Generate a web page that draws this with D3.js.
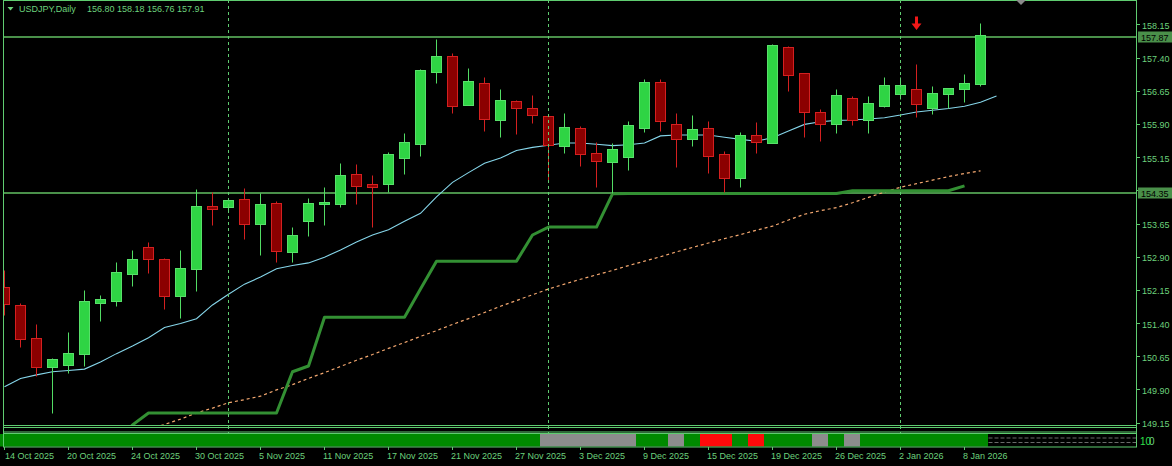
<!DOCTYPE html>
<html>
<head>
<meta charset="utf-8">
<script src="https://d3js.org/d3.v7.min.js"></script>
<style>
  body { margin: 0; background: #000; }
  svg { display: block; }
  text { font-family: "Liberation Sans", Arial, sans-serif; font-size: 9px; fill: #6cd27c; }
</style>
</head>
<body>
<div id="chart"></div>
<script>
// USDJPY daily bars, 14 Oct 2025 .. 9 Jan 2026
var opens  = [152.22,151.81,151.06,150.40,150.45,150.70,151.86,151.91,152.52,153.11,
              152.85,152.02,152.62,154.04,154.03,154.20,153.63,154.11,153.01,153.71,
              154.10,154.10,154.77,154.54,154.55,155.14,155.45,157.08,157.43,156.33,
              156.82,155.99,156.42,156.25,156.07,155.39,155.80,155.24,155.05,155.16,
              155.81,156.85,155.89,155.55,155.80,155.21,154.67,155.64,155.48,157.64,
              157.04,156.18,155.89,156.48,156.00,156.31,156.58,156.70,156.27,156.57,
              156.70,156.80];
var highs  = [152.60,151.86,151.38,150.61,151.19,152.15,152.03,152.78,153.05,153.24,
              152.86,153.05,154.42,154.37,154.20,154.45,154.33,154.16,153.57,154.22,
              154.47,155.02,154.99,154.75,155.26,155.69,157.14,157.83,157.51,157.16,
              156.97,156.70,156.44,156.55,156.10,156.14,155.86,155.50,155.46,155.97,
              156.91,156.91,156.14,156.10,155.97,155.29,155.71,155.94,157.71,157.66,
              157.05,156.23,156.69,156.53,156.53,156.96,156.96,157.25,156.76,156.72,
              157.02,158.18];
var lows   = [151.58,150.87,150.21,149.36,150.27,150.44,151.45,151.79,152.24,152.54,
              151.72,151.52,152.13,153.62,153.91,153.29,152.93,152.79,152.79,153.37,
              153.62,154.02,154.09,153.58,154.37,154.77,155.18,156.83,156.15,156.33,
              155.75,155.61,155.67,155.93,154.63,155.24,154.95,154.47,154.34,154.87,
              155.71,155.75,154.92,155.41,154.80,154.37,154.48,155.24,155.46,156.64,
              155.61,155.51,155.70,155.88,155.70,156.29,156.46,156.06,156.12,156.25,
              156.40,156.76];
var closes = [151.83,151.03,150.40,150.60,150.72,151.89,151.94,152.55,152.84,152.85,
              152.02,152.64,154.04,153.97,154.18,153.63,154.09,153.04,153.39,154.11,
              154.14,154.75,154.50,154.48,155.22,155.49,157.11,157.43,156.31,156.87,
              156.02,156.44,156.27,156.11,155.42,155.82,155.21,155.06,155.33,155.87,
              156.85,155.97,155.55,155.78,155.18,154.67,155.64,155.50,157.68,157.01,
              156.18,155.89,156.55,156.00,156.37,156.79,156.79,156.34,156.59,156.71,
              156.82,157.91];

// fast moving average (shifted one bar forward)
var maFast = [149.96,150.15,150.23,150.30,150.33,150.36,150.52,150.71,150.88,151.07,
              151.30,151.39,151.50,151.81,152.05,152.28,152.44,152.63,152.70,152.76,
              152.89,153.05,153.23,153.39,153.51,153.70,153.88,154.25,154.58,154.80,
              155.01,155.13,155.30,155.37,155.42,155.47,155.47,155.44,155.41,155.43,
              155.47,155.63,155.65,155.65,155.65,155.60,155.55,155.51,155.59,155.74,
              155.89,155.95,155.98,155.99,156.01,156.04,156.10,156.17,156.21,156.25,
              156.30,156.39,156.53];

// slow moving average (dotted)
var maSlow = [null,null,null,null,null,null,null,null,148.86,148.99,
              149.11,149.23,149.37,149.48,149.60,149.67,149.75,149.89,150.01,150.15,
              150.28,150.42,150.56,150.69,150.83,150.96,151.10,151.23,151.37,151.50,
              151.64,151.78,151.91,152.04,152.17,152.28,152.39,152.49,152.59,152.70,
              152.80,152.90,153.01,153.11,153.21,153.31,153.40,153.50,153.59,153.73,
              153.86,153.94,154.01,154.12,154.24,154.36,154.47,154.55,154.63,154.71,
              154.78,154.84];

// stepped trailing line
var stepLine = [null,null,null,null,null,null,null,148.60,149.10,149.37,
                149.37,149.37,149.37,149.37,149.37,149.37,149.37,149.37,150.30,150.43,
                151.53,151.53,151.53,151.53,151.53,151.53,152.17,152.80,152.80,152.80,
                152.80,152.80,152.80,153.39,153.57,153.57,153.57,153.57,154.32,154.33,
                154.33,154.33,154.33,154.33,154.33,154.33,154.33,154.33,154.33,154.33,
                154.33,154.33,154.33,154.39,154.39,154.39,154.39,154.39,154.39,154.39,
                154.50,null];

// trend state strip in the lower window
var trendState = ["up","up","up","up","up","up","up","up","up","up",
                  "up","up","up","up","up","up","up","up","up","up",
                  "up","up","up","up","up","up","up","up","up","up",
                  "up","up","up","up","flat","flat","flat","flat","flat","flat",
                  "up","up","flat","up","down","down","up","down","up","up",
                  "up","flat","up","flat","up","up","up","up","up","up",
                  "up","up"];

var hLines = [157.87, 154.35];
var priceTicks = [158.15, 157.40, 156.65, 155.90, 155.15, 154.40, 153.65, 152.90, 152.15, 151.40, 150.65, 149.90, 149.15];
var dateTicks = [0, 4, 8, 12, 16, 20, 24, 28, 32, 36, 40, 44, 48, 52, 56, 60];
var dateLabels = ["14 Oct 2025","20 Oct 2025","24 Oct 2025","30 Oct 2025","5 Nov 2025","11 Nov 2025",
                  "17 Nov 2025","21 Nov 2025","27 Nov 2025","3 Dec 2025","9 Dec 2025","15 Dec 2025",
                  "19 Dec 2025","26 Dec 2025","2 Jan 2026","8 Jan 2026"];
var separators = [14, 34, 56];   // first bar of each month
var arrowBar = 57, arrowPrice = 158.33;

var width = 1172, height = 466;
var plotLeft = 4, plotRight = 1136, mainBottom = 426;

var fg = "#5fcc70", lineGreen = "#4a904a";

var svg = d3.select("#chart").append("svg")
    .attr("width", width)
    .attr("height", height)
    .style("background", "#000");

// set the ranges
var x = d3.scaleLinear().domain([0, 61]).range([4.5, 980.5]);
var y = d3.scaleLinear().domain([149.075, 158.70]).range([mainBottom, 0]);

function py(v) { return Math.round(y(v)) + 0.5; }

svg.append("defs").append("clipPath").attr("id", "clipMain")
    .append("rect").attr("x", plotLeft).attr("y", 0)
    .attr("width", plotRight - plotLeft).attr("height", mainBottom);

var main = svg.append("g").attr("clip-path", "url(#clipMain)");

// period separators
svg.selectAll(".sep")
    .data(separators)
    .enter().append("line")
    .attr("class", "sep")
    .attr("x1", d => x(d)).attr("x2", d => x(d))
    .attr("y1", 0).attr("y2", 434)
    .style("stroke", fg)
    .style("stroke-dasharray", "3,3")
    .style("stroke-width", 1);

// horizontal levels
main.selectAll(".hline")
    .data(hLines)
    .enter().append("line")
    .attr("class", "hline")
    .attr("x1", plotLeft).attr("x2", plotRight)
    .attr("y1", d => Math.round(y(d))).attr("y2", d => Math.round(y(d)))
    .style("stroke", lineGreen)
    .style("stroke-width", 2);

// slow MA
main.append("path")
    .datum(maSlow.map((v, i) => [i, v]).filter(d => d[1] != null))
    .attr("d", d3.line().x(d => x(d[0])).y(d => y(d[1])))
    .style("fill", "none")
    .style("stroke", "#f4a870")
    .style("stroke-width", 1.2)
    .style("stroke-dasharray", "3,3");

// stepped line
main.append("path")
    .datum(stepLine.map((v, i) => [i, v]).filter(d => d[1] != null))
    .attr("d", d3.line().x(d => x(d[0])).y(d => y(d[1])))
    .style("fill", "none")
    .style("stroke", "#339033")
    .style("stroke-width", 3)
    .style("stroke-linejoin", "round");

// fast MA
main.append("path")
    .datum(maFast.map((v, i) => [i, v]))
    .attr("d", d3.line().x(d => x(d[0])).y(d => y(d[1])))
    .style("fill", "none")
    .style("stroke", "#86d6ea")
    .style("stroke-width", 1.1);

// candles
var bars = d3.range(opens.length);

main.selectAll(".wick")
    .data(bars)
    .enter().append("line")
    .attr("class", "wick")
    .attr("x1", i => x(i)).attr("x2", i => x(i))
    .attr("y1", i => py(highs[i])).attr("y2", i => py(lows[i]))
    .style("stroke", i => closes[i] >= opens[i] ? "#52dc64" : "#d42020")
    .style("stroke-width", 1);

main.selectAll(".body")
    .data(bars)
    .enter().append("rect")
    .attr("class", "body")
    .attr("x", i => x(i) - 5)
    .attr("y", i => py(Math.max(opens[i], closes[i])))
    .attr("width", 10)
    .attr("height", i => Math.max(1, py(Math.min(opens[i], closes[i])) - py(Math.max(opens[i], closes[i]))))
    .style("fill", i => closes[i] >= opens[i] ? "#2fd444" : "#8b0000")
    .style("stroke", i => closes[i] >= opens[i] ? "#58e06a" : "#d42020")
    .style("stroke-width", 1);

// signal arrow
var ax = x(arrowBar), ay = y(arrowPrice);
svg.append("path")
    .attr("d", "M" + (ax - 1.5) + "," + ay + " h3 v7 h3.5 l-5,6.5 l-5,-6.5 h3.5 Z")
    .style("fill", "#f01818");

// frames
svg.append("line").attr("x1", 3.5).attr("x2", 3.5).attr("y1", 0).attr("y2", 447).style("stroke", fg);
svg.append("line").attr("x1", 3.5).attr("x2", plotRight + 0.5).attr("y1", 0.5).attr("y2", 0.5).style("stroke", fg);
svg.append("line").attr("x1", plotRight + 0.5).attr("x2", plotRight + 0.5).attr("y1", 0).attr("y2", 447).style("stroke", fg);
svg.append("line").attr("x1", 3.5).attr("x2", plotRight + 0.5).attr("y1", 425.5).attr("y2", 425.5).style("stroke", fg);
svg.append("rect").attr("x", 3.5).attr("y", 427.5).attr("width", plotRight - 3).attr("height", 4.5)
    .style("fill", "none").style("stroke", fg);

// shift marker
svg.append("path").attr("d", "M1016,0 L1026,0 L1021,5 Z").style("fill", "#8a8a8a");

// trend strip
var stripTop = 434, stripBottom = 446.5;
var stateColor = {up: "#008a00", flat: "#8c8c8c", down: "#ff0a0a"};
svg.selectAll(".strip")
    .data(bars)
    .enter().append("rect")
    .attr("class", "strip")
    .attr("x", i => x(i) - 8.5)
    .attr("y", stripTop)
    .attr("width", 16)
    .attr("height", stripBottom - stripTop)
    .style("fill", i => stateColor[trendState[i]]);

[438, 442.5].forEach(function(yy) {
    svg.append("line")
        .attr("x1", x(61) + 8).attr("x2", plotRight)
        .attr("y1", yy).attr("y2", yy)
        .style("stroke", "#6a6a6a")
        .style("stroke-dasharray", "4,2");
});
svg.append("rect").attr("x", 3.5).attr("y", 433.5).attr("width", plotRight - 3).attr("height", 13.5)
    .style("fill", "none").style("stroke", fg);

svg.append("text").attr("x", 1140).attr("y", 445).style("fill", "#2ee04a").style("font-size", "10px").text("10");
svg.append("text").attr("x", 1149).attr("y", 445).style("font-size", "10px").text("0");

// price axis
svg.selectAll(".ptick")
    .data(priceTicks)
    .enter().append("line")
    .attr("x1", plotRight).attr("x2", plotRight + 4)
    .attr("y1", d => py(d)).attr("y2", d => py(d))
    .style("stroke", fg);

svg.selectAll(".plabel")
    .data(priceTicks)
    .enter().append("text")
    .attr("x", 1142)
    .attr("y", d => y(d) + 4.5)
    .text(d => d.toFixed(2));

// level tags on the price axis
hLines.forEach(function(v) {
    var cy = Math.round(y(v));
    svg.append("rect")
        .attr("x", 1138).attr("y", cy - 5.5)
        .attr("width", 34).attr("height", 11)
        .style("fill", lineGreen);
    svg.append("text")
        .attr("x", 1141).attr("y", cy + 3.5)
        .style("fill", "#000")
        .text(v.toFixed(2));
});

// time axis
svg.selectAll(".dtick")
    .data(dateTicks)
    .enter().append("line")
    .attr("x1", d => x(d)).attr("x2", d => x(d))
    .attr("y1", 447).attr("y2", 450)
    .style("stroke", fg);

svg.selectAll(".dlabel")
    .data(dateTicks)
    .enter().append("text")
    .attr("x", (d, i) => Math.max(5, x(d) - 1.5))
    .attr("y", 459)
    .text((d, i) => dateLabels[i]);

// title
svg.append("path").attr("d", "M7.5,7 L13.5,7 L10.5,10.5 Z").style("fill", "#6cd27c");
svg.append("text").attr("x", 19).attr("y", 12).text("USDJPY,Daily");
svg.append("text").attr("x", 87).attr("y", 12).text("156.80 158.18 156.76 157.91");
</script>
</body>
</html>
